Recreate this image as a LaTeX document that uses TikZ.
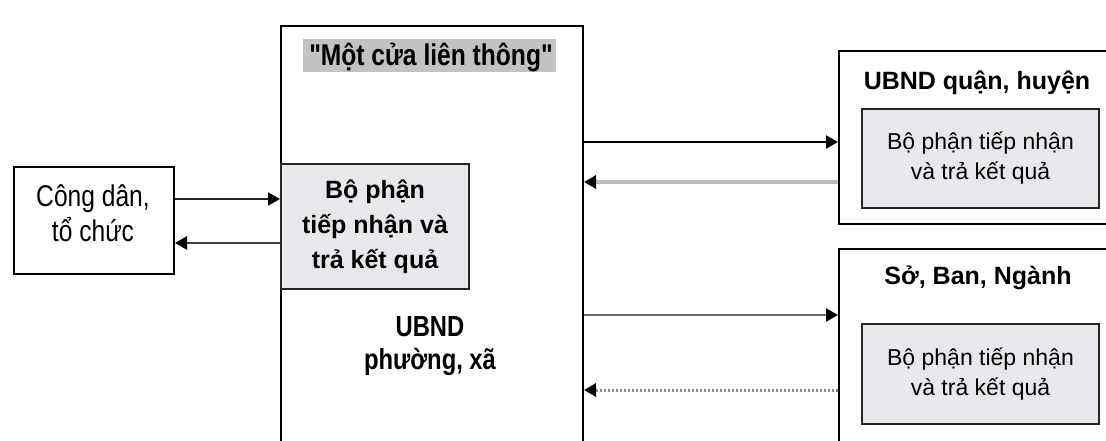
\documentclass[tikz,border=0pt]{standalone}
\usepackage{fontspec}
\setmainfont{Liberation Sans}
\newfontfamily\cf{Liberation Sans}[FakeStretch=0.82]
\usetikzlibrary{arrows.meta,positioning}
\definecolor{innerfill}{HTML}{E9E7EC}
\definecolor{titlefill}{HTML}{C2C2C2}
\definecolor{lgray}{HTML}{BDBDBD}
\definecolor{mgray}{HTML}{6A6A6A}
\definecolor{dgray}{HTML}{8C8C8C}
\tikzset{
  box/.style={draw=black, line width=2pt, fill=white, rectangle, inner sep=0pt},
  innerbox/.style={draw=black!85, line width=2pt, fill=innerfill, rectangle, inner sep=0pt, align=center},
  arr/.style={line width=2pt, -{Triangle[length=12pt,width=13pt,black]}},
  txt/.style={inner sep=0pt, align=center},
}
\begin{document}
\begin{tikzpicture}[x=1pt,y=-1pt]
\useasboundingbox (0,0) rectangle (1106,441);
\fill[white] (0,0) rectangle (1106,441);
\clip (0,0) rectangle (1106,441);

% main box
\node[box, anchor=north west, minimum width=302pt, minimum height=460pt] (main) at (280,25) {};
\node[rectangle, fill=titlefill, inner sep=0pt, minimum width=253pt, minimum height=33pt, anchor=north west] (titlebg) at (303,39) {};
\node[txt, font=\cf\bfseries\fontsize{30}{33}\selectfont] (title) at (431,57) {"Một cửa liên thông"};

% receiving unit
\node[innerbox, anchor=north west, minimum width=188pt, minimum height=125pt, font=\bfseries\fontsize{25}{35}\selectfont] (recv) at (280,163) {Bộ phận\\tiếp nhận và\\trả kết quả};

\node[txt, font=\cf\bfseries\fontsize{29}{33}\selectfont] (ubndp) at (430,346) {UBND\\phường, xã};

% citizens
\node[box, anchor=north west, minimum width=160pt, minimum height=107pt] (cd) at (13,166) {};
\node[txt, font=\cf\fontsize{30}{35}\selectfont] (cdt) at (93,213) {Công dân,\\tổ chức};

% right boxes
\node[box, anchor=north west, minimum width=300pt, minimum height=173pt] (ubq) at (838,50) {};
\node[txt, font=\bfseries\fontsize{25}{32}\selectfont] (ubqt) at (977,83) {UBND quận, huyện};
\node[innerbox, anchor=north west, minimum width=237pt, minimum height=99pt, font=\fontsize{23}{30}\selectfont] (ubqr) at (861,108) {Bộ phận tiếp nhận\\và trả kết quả};

\node[box, anchor=north west, minimum width=300pt, minimum height=240pt] (sbn) at (838,248) {};
\node[txt, font=\bfseries\fontsize{25}{32}\selectfont] (sbnt) at (978,278) {Sở, Ban, Ngành};
\node[innerbox, anchor=north west, minimum width=237pt, minimum height=100pt, font=\fontsize{23}{30}\selectfont] (sbnr) at (861,323) {Bộ phận tiếp nhận\\và trả kết quả};

% arrow levels
\coordinate (ya1) at (0,199);
\coordinate (ya2) at (0,243);
\coordinate (yr1) at (0,142);
\coordinate (yr2) at (0,182);
\coordinate (ys1) at (0,315);
\coordinate (ys2) at (0,390);

% arrows
\draw[arr, draw=black!85, line width=2.2pt] (cd.east |- ya1) -- (recv.west |- ya1);
\draw[arr, draw=black!75, line width=2.2pt] (recv.west |- ya2) -- (cd.east |- ya2);

\draw[arr, draw=black, line width=2.2pt] (main.east |- yr1) -- (ubq.west |- yr1);
\draw[arr, draw=lgray, line width=3.2pt] (ubq.west |- yr2) -- (main.east |- yr2);

\draw[arr, draw=mgray, line width=2.6pt] (main.east |- ys1) -- (sbn.west |- ys1);
\draw[arr, draw=dgray, line width=3pt, dash pattern=on 2.5pt off 1.5pt] (sbn.west |- ys2) -- (main.east |- ys2);
\end{tikzpicture}
\end{document}
